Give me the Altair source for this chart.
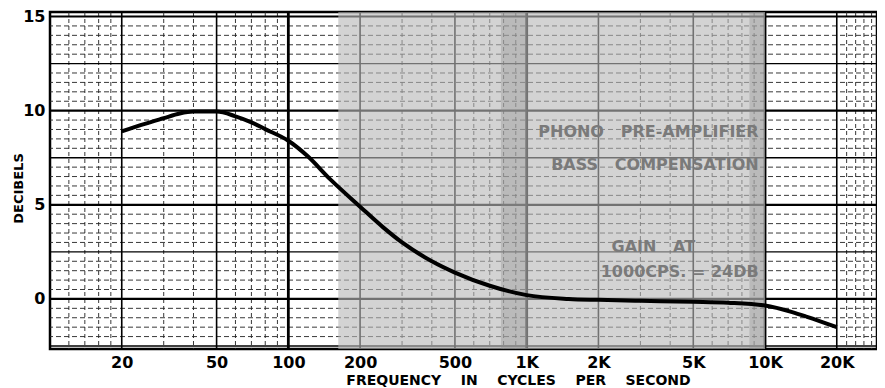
import altair as alt
import pandas as pd

# Curve
freq = [20, 25, 30, 35, 40, 50, 60, 70, 80, 100, 120, 150, 200, 250, 300, 400,
        500, 700, 1000, 1500, 2000, 3000, 5000, 7000, 10000, 13000, 15000, 20000]
db = [8.9, 9.3, 9.6, 9.85, 9.95, 9.95, 9.7, 9.38, 9.02, 8.4, 7.6, 6.35, 4.9, 3.8, 3.0, 2.0,
      1.4, 0.7, 0.2, 0.0, -0.05, -0.1, -0.15, -0.2, -0.35, -0.7, -0.95, -1.5]

x_ticks = [20, 50, 100, 200, 500, 1000, 2000, 5000, 10000, 20000]
y_ticks = [0, 5, 10, 15]

# grid paper lines
v_decade = [100, 1000, 10000]
v_major = [20, 50, 200, 500, 2000, 5000, 20000]
v_minor = [12, 14, 16, 18, 30, 40, 60, 70, 80, 90, 300, 400, 600, 700, 800, 900,
           3000, 4000, 6000, 7000, 8000, 9000, 22000, 24000, 26000, 28000]
h_major = [0, 5, 10, 15]
h_mid = [-2.5, 2.5, 7.5, 12.5]
h_minor = [v / 2 for v in range(-5, 31) if (v / 2) not in (-2.5, 0, 2.5, 5, 7.5, 10, 12.5, 15)]

shade = [{"a": 162, "b": 10000}]
shade_dark = [{"a": 780, "b": 1000}, {"a": 8600, "b": 10000}]

note_text = ["PHONO\u00a0\u00a0 PRE-AMPLIFIER", "BASS\u00a0\u00a0 COMPENSATION",
             "GAIN\u00a0\u00a0 AT", "1000CPS. = 24DB"]

xs = alt.Scale(type="log", domain=[10, 29500], nice=False)
ys = alt.Scale(domain=[-2.66, 15.24], nice=False, zero=False)

FONT = "DejaVu Sans"
curve_df = pd.DataFrame({"freq": freq, "db": db})

# invisible layer that carries the axes
axes_layer = alt.Chart(curve_df).mark_point(opacity=0, size=1).encode(
    x=alt.X("freq:Q", scale=xs, axis=alt.Axis(
        values=x_ticks,
        labelExpr="datum.value >= 1000 ? format(datum.value/1000, 'd') + 'K' : format(datum.value, 'd')",
        title="FREQUENCY\u00a0\u00a0\u00a0 IN\u00a0\u00a0\u00a0 CYCLES\u00a0\u00a0\u00a0 PER\u00a0\u00a0\u00a0 SECOND",
        titleX=468, titleY=31, titleAlign="center", titleBaseline="middle",
        titleFontSize=14, labelPadding=5, grid=False, ticks=False, domain=False,
        labelFont=FONT, labelFontWeight="bold", labelFontSize=16, labelColor="black",
        titleFont=FONT, titleFontWeight="bold", titleColor="black")),
    y=alt.Y("db:Q", scale=ys, axis=alt.Axis(
        values=y_ticks, title="DECIBELS", titleAngle=270, titleX=-32, titleY=176,
        titleAlign="center", titleBaseline="middle", titleFontSize=13,
        labelPadding=5, grid=False, ticks=False, domain=False,
        labelFont=FONT, labelFontWeight="bold", labelFontSize=16, labelColor="black",
        titleFont=FONT, titleFontWeight="bold", titleColor="black")),
)


def vrules(vals, width, dash=None, color="black"):
    m = alt.Chart(pd.DataFrame({"f": vals})).mark_rule(
        strokeWidth=width, color=color, clip=True,
        **({"strokeDash": dash} if dash else {}))
    return m.encode(x=alt.X("f:Q", scale=xs, axis=None))


def hrules(vals, width, dash=None, color="black"):
    m = alt.Chart(pd.DataFrame({"d": vals})).mark_rule(
        strokeWidth=width, color=color, clip=True,
        **({"strokeDash": dash} if dash else {}))
    return m.encode(y=alt.Y("d:Q", scale=ys, axis=None))


grid = [
    hrules(h_minor, 0.9, [5, 3], "#222"),
    vrules(v_minor, 0.9, [4, 3], "#222"),
    hrules(h_mid, 1.4),
    vrules(v_major, 1.6),
    hrules(h_major, 2.2),
    vrules(v_decade, 2.8),
]

shading = alt.Chart(pd.DataFrame(shade)).mark_rect(color="#b8b8b8", opacity=0.62).encode(
    x=alt.X("a:Q", scale=xs, axis=None), x2="b:Q")
shading2 = alt.Chart(pd.DataFrame(shade_dark)).mark_rect(color="#8c8c8c", opacity=0.35).encode(
    x=alt.X("a:Q", scale=xs, axis=None), x2="b:Q")

curve = alt.Chart(curve_df).mark_line(
    color="black", strokeWidth=4, interpolate="monotone", clip=True
).encode(
    x=alt.X("freq:Q", scale=xs, axis=None),
    y=alt.Y("db:Q", scale=ys, axis=None),
)

# annotation positions (Hz, dB) and alignment
note_df = pd.DataFrame({
    "t": note_text,
    "f": [9400, 9400, 3400, 9400],
    "d": [8.84, 7.09, 2.75, 1.43],
    "al": ["right", "right", "center", "right"],
})
notes = []
for al in ["right", "center"]:
    notes.append(alt.Chart(note_df).transform_filter(alt.datum.al == al).mark_text(
        font=FONT, fontWeight="bold", fontSize=16, color="#7a7a7a", align=al,
        baseline="middle").encode(
        x=alt.X("f:Q", scale=xs, axis=None),
        y=alt.Y("d:Q", scale=ys, axis=None),
        text="t:N"))

chart = alt.layer(axes_layer, *grid, shading, shading2, curve, *notes).resolve_axis(
    x="independent", y="independent"
).properties(
    width=827, height=337,
    autosize=alt.AutoSizeParams(type="none"),
    padding={"left": 42, "top": 4, "right": 0, "bottom": 40},
    background="white",
).configure_view(stroke="black", strokeWidth=2.5)

chart.save("out.html", embed_options={"renderer": "svg", "actions": False})
